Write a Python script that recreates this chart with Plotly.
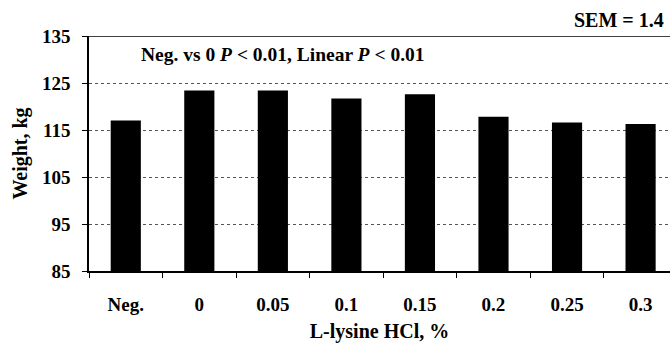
import plotly.graph_objects as go

categories = ["Neg.", "0", "0.05", "0.1", "0.15", "0.2", "0.25", "0.3"]
weights = [117.0, 123.4, 123.4, 121.7, 122.6, 117.8, 116.6, 116.3]
y_ticks = [85, 95, 105, 115, 125, 135]

FONT = "Liberation Serif"

fig = go.Figure()
fig.add_trace(go.Bar(x=categories, y=weights, marker=dict(color="black", line=dict(width=0)),
                     width=0.41))

fig.update_layout(
    width=670, height=350,
    margin=dict(l=89, r=0, t=36, b=79),
    paper_bgcolor="white", plot_bgcolor="white",
    showlegend=False,
    font=dict(family=FONT, color="black", size=19),
    xaxis=dict(
        type="category", range=[-0.5, 7.4], tickson="boundaries",
        ticks="outside", ticklen=5, tickcolor="black", tickwidth=1,
        showgrid=False, showline=True, linecolor="black", linewidth=1.5,
        tickfont=dict(family=FONT, size=19, color="black", weight="bold"),
        ticklabelstandoff=15, automargin=False,
        title=dict(text="<b>L-lysine HCl, %</b>", font=dict(family=FONT, size=20, color="black"), standoff=10),
    ),
    yaxis=dict(
        range=[85, 135], tickvals=y_ticks,
        ticks="outside", ticklen=5, tickcolor="black",
        showgrid=True, gridcolor="#555", griddash="dot", gridwidth=1,
        showline=True, linecolor="black", linewidth=1.5,
        tickfont=dict(family=FONT, size=19, color="black", weight="bold"),
        ticklabelstandoff=8, automargin=False,
        title=dict(text="<b>Weight, kg</b>", font=dict(family=FONT, size=20, color="black"), standoff=9),
    ),
)

fig.add_shape(type="line", xref="paper", yref="y", x0=0, x1=1, y0=135, y1=135,
              line=dict(color="black", width=1.5))

fig.add_annotation(xref="paper", yref="paper", x=(139 - 89) / 581, y=(271 - 54) / 235,
                   xanchor="left", yanchor="middle", showarrow=False,
                   text="<b>Neg. vs 0 <i>P</i> < 0.01, Linear <i>P</i> < 0.01</b>",
                   font=dict(family=FONT, size=19.5, color="black"))
fig.add_annotation(xref="paper", yref="paper", x=(666 - 89) / 581, y=(271 - 20) / 235,
                   xanchor="right", yanchor="middle", showarrow=False,
                   text="<b>SEM = 1.4</b>",
                   font=dict(family=FONT, size=20, color="black"))

fig.write_html("out.html", config={"displayModeBar": False},
               post_script="document.body.style.margin='0';")
